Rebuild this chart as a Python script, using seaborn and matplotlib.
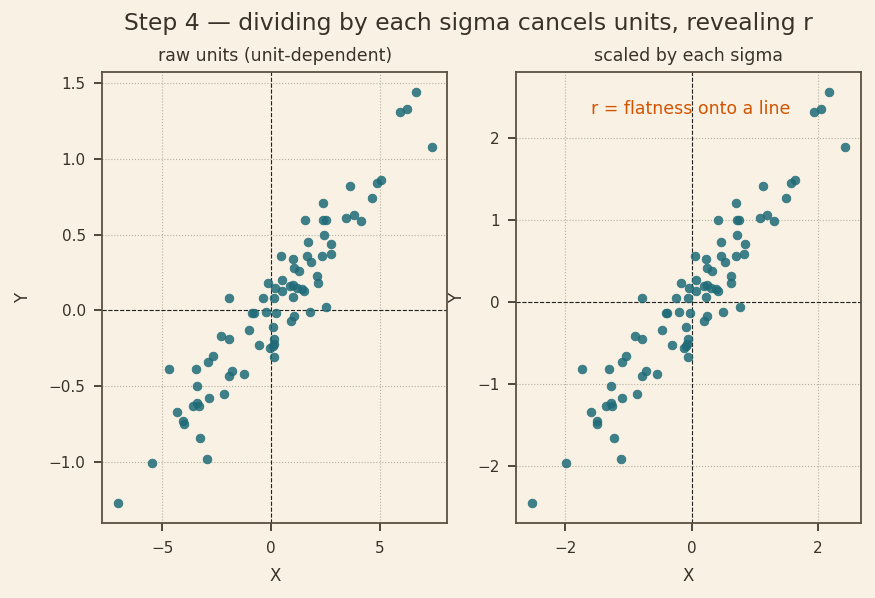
import numpy as np
import pandas as pd
import seaborn as sns
import matplotlib
matplotlib.use("Agg")
import matplotlib.pyplot as plt

# raw points
x_raw = [6.66, 5.95, 6.25, 7.39, 5.08, 4.90, 3.62, 4.64, 2.38, 1.55, 2.40, 2.52, 3.47, 3.81, 4.13,
         2.43, 1.69, 2.78, 0.48, 1.00, 1.65, 1.86, 2.37, 2.75, 1.05, 1.28, 2.11, 2.15, -0.15, 0.51,
         0.18, 0.53, 0.87, 1.20, 1.43, 1.54, 1.00, -1.94, -0.38, 0.16, 2.54, -0.88, -0.79, -0.24, 0.24,
         1.78, 1.05, 0.91, 0.08, -1.02, -2.29, -1.94, 0.16, 0.13, -0.56, -0.02, 0.16, -2.68, -2.90, -4.70,
         -3.46, -1.80, -1.94, -1.25, -3.41, -2.17, -2.86, -3.39, -3.60, -3.32, -4.33, -4.05, -4.01, -3.27,
         -2.95, -5.48, -7.03, 1.02, 0.08]
y_raw = [1.44, 1.31, 1.33, 1.08, 0.86, 0.84, 0.82, 0.74, 0.71, 0.60, 0.60, 0.60, 0.61, 0.63, 0.59,
         0.50, 0.45, 0.44, 0.36, 0.34, 0.36, 0.32, 0.36, 0.37, 0.28, 0.26, 0.23, 0.18, 0.18, 0.20,
         0.15, 0.13, 0.16, 0.15, 0.14, 0.13, 0.09, 0.08, 0.08, 0.08, 0.02, -0.02, -0.02, -0.01, -0.02,
         -0.01, -0.04, -0.07, -0.11, -0.13, -0.17, -0.19, -0.19, -0.22, -0.23, -0.25, -0.31, -0.30, -0.34, -0.39,
         -0.39, -0.40, -0.43, -0.42, -0.50, -0.55, -0.58, -0.61, -0.63, -0.63, -0.67, -0.73, -0.75, -0.84,
         -0.98, -1.01, -1.27, 0.165, -0.235]

df = pd.DataFrame({"x": x_raw, "y": y_raw})
# step 4: center and divide by each sigma
df["zx"] = (df["x"] - df["x"].mean()) / df["x"].std(ddof=0)
df["zy"] = (df["y"] - df["y"].mean()) / df["y"].std(ddof=0)

bg = "#f8f1e4"
ink = "#3a3228"
sns.set_theme(style="ticks", rc={
    "figure.facecolor": bg, "axes.facecolor": bg, "savefig.facecolor": bg,
    "axes.edgecolor": "#5c5040", "axes.linewidth": 1.3,
    "text.color": ink, "axes.labelcolor": ink,
    "xtick.color": ink, "ytick.color": ink,
    "xtick.labelsize": 11, "ytick.labelsize": 11, "axes.labelsize": 12,
    "xtick.major.pad": 7, "ytick.major.pad": 6,
})
plt.rcParams["font.family"] = ["DejaVu Sans"]

fig, axes = plt.subplots(1, 2, figsize=(8.75, 5.98), dpi=100)
plt.subplots_adjust(left=0.117, right=0.984, top=0.88, bottom=0.125, wspace=0.2)

teal = "#1f6b78"
for ax, xc, yc, title in [(axes[0], "x", "y", "raw units (unit-dependent)"),
                          (axes[1], "zx", "zy", "scaled by each sigma")]:
    ax.grid(True, linestyle=":", color="#b8b0a0", linewidth=0.8)
    ax.axhline(0, color="#222222", linestyle="--", linewidth=0.8)
    ax.axvline(0, color="#222222", linestyle="--", linewidth=0.8)
    sns.scatterplot(data=df, x=xc, y=yc, ax=ax, s=40, color=teal, alpha=0.85,
                    edgecolor=teal, linewidth=0.5, zorder=3)
    ax.set_title(title, fontsize=12.5, pad=8)
    ax.set_xlabel("X", labelpad=8)

axes[0].set_ylabel("Y", labelpad=12)
axes[1].set_ylabel("Y", labelpad=8)
axes[0].set_xticks([-5, 0, 5])
axes[0].set_yticks([-1.0, -0.5, 0.0, 0.5, 1.0, 1.5])
axes[1].set_xticks([-2, 0, 2])
axes[1].set_yticks([-2, -1, 0, 1, 2])
axes[1].text(0.507, 0.918, "r = flatness onto a line", transform=axes[1].transAxes,
             ha="center", va="center", color="#d35400", fontsize=12.5)

fig.suptitle("Step 4 \u2014 dividing by each sigma cancels units, revealing r",
             fontsize=16.9, x=0.535, y=0.98)
fig.savefig("out.png")
